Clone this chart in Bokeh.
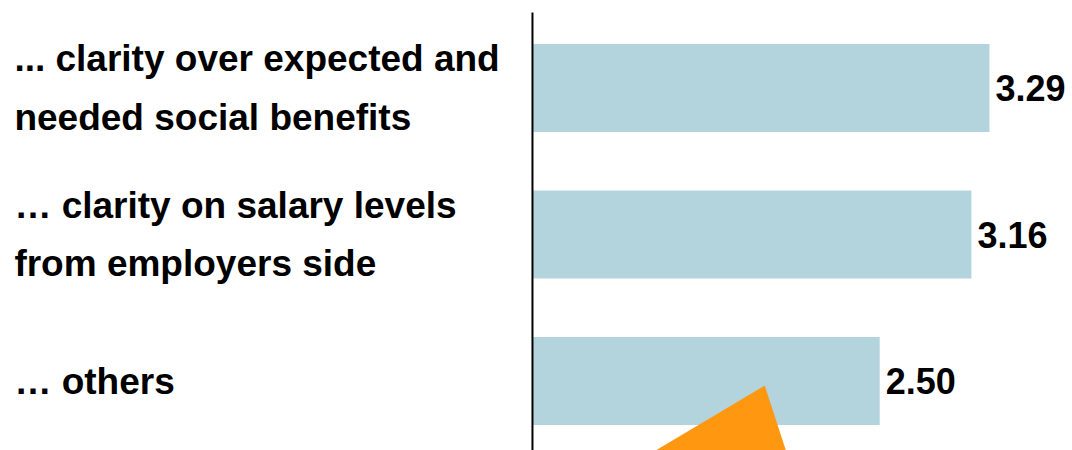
from bokeh.plotting import figure
from bokeh.models import Range1d, ColumnDataSource
from bokeh.core.properties import value
from bokeh.embed import file_html
from bokeh.resources import INLINE

categories = ["... clarity over expected and\nneeded social benefits",
              "\u2026 clarity on salary levels\nfrom employers side",
              "\u2026 others"]
values = [3.29, 3.16, 2.50]
value_labels = ["3.29", "3.16", "2.50"]

# decorative orange triangle (data coords)
tri_x = [1.672, 0.644, 1.872]
tri_y = [2.031, 2.611, 2.611]

FONT = "'Liberation Sans Narrow', 'Arial Narrow', 'Liberation Sans', sans-serif"

idx = list(range(len(categories)))
src = ColumnDataSource(dict(y=idx, v=values, lab=value_labels, cat=categories,
                            lx=[-3.73] * len(idx)))

p = figure(width=1072, height=450, output_backend="svg", toolbar_location=None,
           x_range=Range1d(-3.830, 3.888), y_range=Range1d(2.474, -0.597),
           min_border=0)
p.axis.visible = False
p.grid.visible = False
p.outline_line_color = None
p.background_fill_color = "white"
p.border_fill_color = "white"

p.hbar(y="y", left=0, right="v", height=0.6, source=src,
       fill_color="#B3D3DD", line_color=None)

p.segment(x0=0, y0=-0.515, x1=0, y1=2.474, line_color="black", line_width=2)

p.patch(tri_x, tri_y, fill_color="#FF9810", line_color=None)

p.text(x="v", y="y", text="lab", source=src, x_offset=6,
       text_font=value(FONT), text_font_style="bold", text_font_size="36px",
       text_baseline="middle", text_align="left", text_color="black")

p.text(x="lx", y="y", text="cat", source=src,
       text_font=value(FONT), text_font_style="bold", text_font_size="37px",
       text_baseline="middle", text_align="left", text_color="black",
       text_line_height=1.43)

open("out.html", "w").write(file_html(p, INLINE))
